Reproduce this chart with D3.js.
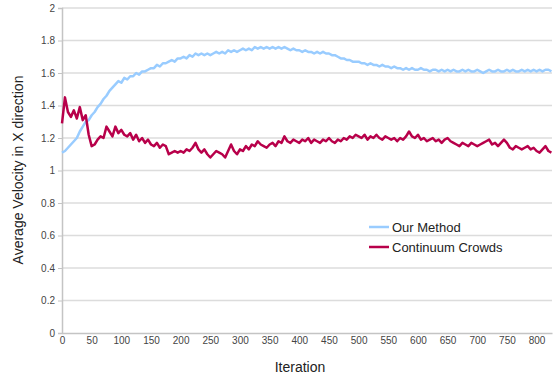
<!DOCTYPE html>
<html>
<head>
<meta charset="utf-8">
<script src="https://cdn.jsdelivr.net/npm/d3@7"></script>
<style>
  body { margin: 0; background: #fff; }
  text { font-family: "Liberation Sans", Arial, sans-serif; }
</style>
</head>
<body>
<div id="chart-area"></div>
<script>
// values, one every 5 iterations
const iterStep = 5;
const seriesNames = ["Our Method", "Continuum Crowds"];
const seriesColors = ["#99ccff", "#b8004a"];
const yTicks = [0, 0.2, 0.4, 0.6, 0.8, 1, 1.2, 1.4, 1.6, 1.8, 2];
const xTicks = [0, 50, 100, 150, 200, 250, 300, 350, 400, 450, 500, 550, 600, 650, 700, 750, 800];

const ourMethod = [
  1.11, 1.12, 1.14, 1.16, 1.18, 1.20, 1.24, 1.27, 1.30, 1.31,
  1.34, 1.36, 1.39, 1.41, 1.44, 1.46, 1.49, 1.51, 1.53, 1.55,
  1.54, 1.57, 1.56, 1.58, 1.58, 1.60, 1.59, 1.61, 1.61, 1.62,
  1.63, 1.63, 1.65, 1.64, 1.66, 1.66, 1.67, 1.68, 1.67, 1.69,
  1.69, 1.70, 1.69, 1.71, 1.70, 1.72, 1.71, 1.72, 1.71, 1.72,
  1.71, 1.72, 1.73, 1.72, 1.73, 1.72, 1.74, 1.73, 1.74, 1.73,
  1.74, 1.75, 1.74, 1.75, 1.74, 1.76, 1.75, 1.76, 1.75, 1.76,
  1.75, 1.76, 1.75, 1.76, 1.75, 1.76, 1.75, 1.74, 1.75, 1.74,
  1.74, 1.73, 1.74, 1.73, 1.73, 1.72, 1.73, 1.72, 1.73, 1.72,
  1.72, 1.71, 1.71, 1.70, 1.69, 1.69, 1.68, 1.68, 1.67, 1.67,
  1.67, 1.66, 1.66, 1.65, 1.66, 1.65, 1.65, 1.64, 1.65, 1.64,
  1.64, 1.63, 1.64, 1.63, 1.63, 1.62, 1.63, 1.62, 1.63, 1.62,
  1.62, 1.63, 1.62, 1.62, 1.61, 1.62, 1.62, 1.61, 1.62, 1.61,
  1.62, 1.61, 1.62, 1.61, 1.61, 1.62, 1.61, 1.62, 1.61, 1.61,
  1.62, 1.61, 1.60, 1.61, 1.62, 1.61, 1.61, 1.62, 1.61, 1.61,
  1.62, 1.61, 1.62, 1.61, 1.61, 1.62, 1.61, 1.62, 1.61, 1.62,
  1.61, 1.62, 1.61, 1.62, 1.62, 1.61
];

const continuumCrowds = [
  1.29, 1.45, 1.36, 1.33, 1.37, 1.32, 1.39, 1.31, 1.34, 1.22,
  1.15, 1.16, 1.19, 1.21, 1.20, 1.27, 1.24, 1.21, 1.27, 1.23,
  1.25, 1.22, 1.21, 1.23, 1.19, 1.22, 1.18, 1.20, 1.17, 1.19,
  1.16, 1.15, 1.17, 1.14, 1.16, 1.15, 1.10, 1.11, 1.12, 1.11,
  1.12, 1.11, 1.13, 1.12, 1.14, 1.17, 1.13, 1.11, 1.13, 1.10,
  1.08, 1.10, 1.12, 1.11, 1.10, 1.08, 1.12, 1.16, 1.12, 1.10,
  1.13, 1.12, 1.15, 1.13, 1.16, 1.15, 1.18, 1.16, 1.15, 1.14,
  1.16, 1.17, 1.15, 1.18, 1.17, 1.21, 1.18, 1.17, 1.19, 1.18,
  1.17, 1.19, 1.18, 1.20, 1.17, 1.19, 1.18, 1.17, 1.19, 1.18,
  1.20, 1.18, 1.17, 1.19, 1.18, 1.20, 1.19, 1.21, 1.20, 1.22,
  1.21, 1.20, 1.22, 1.19, 1.21, 1.20, 1.22, 1.20, 1.19, 1.21,
  1.20, 1.19, 1.20, 1.18, 1.20, 1.19, 1.21, 1.24, 1.21, 1.20,
  1.22, 1.19, 1.20, 1.18, 1.19, 1.20, 1.18, 1.19, 1.17, 1.19,
  1.20, 1.18, 1.17, 1.16, 1.15, 1.17, 1.16, 1.15, 1.17, 1.16,
  1.15, 1.16, 1.17, 1.18, 1.19, 1.16, 1.17, 1.15, 1.17, 1.19,
  1.17, 1.14, 1.13, 1.15, 1.14, 1.13, 1.14, 1.15, 1.13, 1.14,
  1.12, 1.11, 1.13, 1.15, 1.12, 1.11
];

const margin = { left: 62, right: 1, top: 8, bottom: 43 };
const width = 553 - margin.left - margin.right,
    height = 376 - margin.top - margin.bottom;

const svg = d3.select("#chart-area")
    .append("svg")
    .attr("width", 553)
    .attr("height", 376);

const g = svg.append("g")
    .attr("transform", "translate(" + margin.left + ", " + margin.top + ")");

const x = d3.scaleLinear()
    .domain([0, 826])
    .range([0, width]);

const y = d3.scaleLinear()
    .domain([0, 2])
    .range([height, 0]);

// gridlines
g.selectAll("line.grid")
    .data(yTicks.filter(function(d){ return d > 0; }))
    .enter()
    .append("line")
        .attr("class", "grid")
        .attr("x1", 0)
        .attr("x2", width)
        .attr("y1", function(d){ return y(d); })
        .attr("y2", function(d){ return y(d); })
        .attr("stroke", "#dcdcdc")
        .attr("stroke-width", 1.5);

// y axis
const yAxisCall = d3.axisLeft(y)
    .tickValues(yTicks)
    .tickSize(4)
    .tickFormat(function(d){ return d; });
const yAxis = g.append("g")
    .attr("class", "y-axis")
    .call(yAxisCall);
yAxis.select(".domain").attr("stroke", "#c4c4c4").attr("stroke-width", 1.5);
yAxis.selectAll(".tick line").attr("stroke", "#c4c4c4");
yAxis.selectAll("text")
    .attr("font-size", "10px")
    .attr("fill", "#444")
    .attr("x", -7);

// x axis
const xAxisCall = d3.axisBottom(x)
    .tickValues(xTicks)
    .tickSize(0)
    .tickSizeOuter(0);
const xAxis = g.append("g")
    .attr("class", "x axis")
    .attr("transform", "translate(0, " + height + ")")
    .call(xAxisCall);
xAxis.select(".domain").attr("stroke", "#c4c4c4").attr("stroke-width", 1.5);
xAxis.selectAll("text")
    .attr("font-size", "10px")
    .attr("fill", "#444")
    .attr("y", 4);

// lines
const series = [ourMethod, continuumCrowds];
const line = d3.line()
    .x(function(d, i){ return x(i * iterStep); })
    .y(function(d){ return y(d); });

g.selectAll("path.series")
    .data(series)
    .enter()
    .append("path")
        .attr("class", "series")
        .attr("d", line)
        .attr("fill", "none")
        .attr("stroke", function(d, i){ return seriesColors[i]; })
        .attr("stroke-width", 2.5)
        .attr("stroke-linejoin", "round");

// legend
const legend = svg.append("g")
    .attr("transform", "translate(369, 227)");
seriesNames.forEach(function(name, i){
    legend.append("line")
        .attr("x1", 0).attr("x2", 20)
        .attr("y1", i * 20).attr("y2", i * 20)
        .attr("stroke", seriesColors[i])
        .attr("stroke-width", 2.5);
    legend.append("text")
        .attr("x", 23)
        .attr("y", i * 20 + 5)
        .attr("font-size", "13px")
        .attr("fill", "#222")
        .text(name);
});

// X Label
svg.append("text")
    .attr("x", 300)
    .attr("y", 372)
    .attr("font-size", "14px")
    .attr("text-anchor", "middle")
    .attr("fill", "#222")
    .text("Iteration");

// Y Label
svg.append("text")
    .attr("x", -170)
    .attr("y", 23)
    .attr("font-size", "14px")
    .attr("text-anchor", "middle")
    .attr("transform", "rotate(-90)")
    .attr("fill", "#222")
    .text("Average Velocity in X direction");
</script>
</body>
</html>
